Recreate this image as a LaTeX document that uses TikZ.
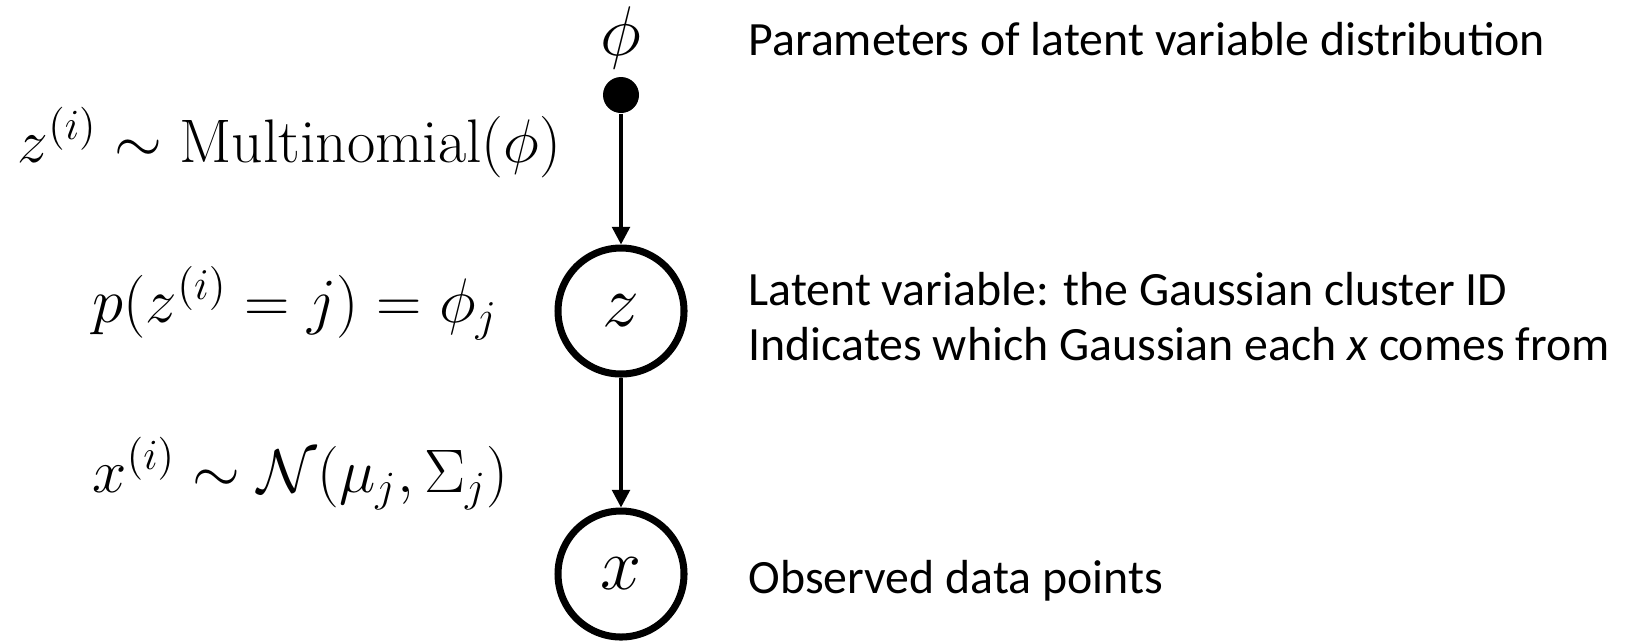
\documentclass[tikz,border=0pt]{standalone}
\usepackage{fix-cm}
\usepackage{fontspec}
\newfontfamily\calibri{Carlito}
\usetikzlibrary{arrows.meta,positioning}

\tikzset{
  latent/.style={draw, circle, line width=2pt, minimum size=1.26cm, inner sep=0pt, font=\fontsize{21}{25}\selectfont},
  param/.style={fill, circle, minimum size=0.36cm, inner sep=0pt},
  edge/.style={-{Triangle[length=5pt,width=5pt]}, line width=1pt},
  eqn/.style={anchor=base west, inner sep=0pt, font=\fontsize{17.5}{21}\selectfont},
  note/.style={anchor=base west, inner sep=0pt, font=\calibri\fontsize{13.6}{16}\selectfont},
}

\begin{document}
\begin{tikzpicture}

\useasboundingbox (0,0) rectangle (16.29,-6.40);
%\draw(0,-6.4) grid (16.29,0);


% graph
\node (dot) [param] at (6.21,-0.95) {};
\node (phi) [eqn, anchor=base, font=\fontsize{20}{24}\selectfont] at (6.21,-0.55) {$\phi$};
\node (z) [latent] at (6.21,-3.11) {$z$};
\node (x) [latent] at (6.21,-5.74) {$x$};

\draw[edge] (dot) -- (z);
\draw[edge] (z) -- (x);


% left side
\node (multi) [eqn] at (0.17,-1.62) {$z^{(i)} \sim \mathrm{Multinomial}(\phi)$};
\node (prior) [eqn, font=\fontsize{17.9}{22}\selectfont] at (0.92,-3.22) {$p(z^{(i)}=j)=\phi_j$};
\node (gauss) [eqn] at (0.92,-4.92) {$x^{(i)} \sim \mathcal{N}(\mu_j,\Sigma_j)$};


% right side
\node (params) [note] at (7.48,-0.55) {Parameters of latent variable distribution};
\node (latent1) [note] at (7.48,-3.05) {Latent variable: the Gaussian cluster ID};
\node (latent2) [note] at (7.48,-3.60) {Indicates which Gaussian each {\itshape x} comes from};
\node (obs) [note] at (7.48,-5.93) {Observed data points};

\end{tikzpicture}
\end{document}
